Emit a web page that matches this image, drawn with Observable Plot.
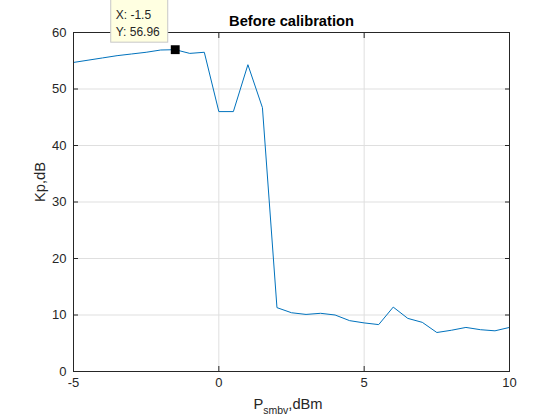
<!DOCTYPE html>
<html>
<head>
<meta charset="utf-8">
<script src="https://cdn.jsdelivr.net/npm/d3@7"></script>
<script src="https://cdn.jsdelivr.net/npm/@observablehq/plot@0.6"></script>
<style>
  html, body { margin: 0; padding: 0; background: #fff; }
  #chart { width: 560px; height: 420px; }
  svg text { font-family: "Liberation Sans", Arial, sans-serif; }
</style>
</head>
<body>
<div id="chart"></div>
<script>
const powerDbm = [-5, -4.5, -4, -3.5, -3, -2.5, -2, -1.5, -1, -0.5, 0, 0.5, 1, 1.5, 2, 2.5, 3, 3.5, 4, 4.5, 5, 5.5, 6, 6.5, 7, 7.5, 8, 8.5, 9, 9.5, 10];
const kpDb = [54.7, 55.1, 55.5, 55.9, 56.2, 56.5, 56.9, 56.96, 56.3, 56.5, 46.0, 46.0, 54.3, 46.7, 11.3, 10.4, 10.1, 10.3, 10.0, 9.0, 8.6, 8.3, 11.4, 9.4, 8.7, 6.9, 7.3, 7.8, 7.4, 7.2, 7.8];
const xTicks = [-5, 0, 5, 10];
const yTicks = [0, 10, 20, 30, 40, 50, 60];
const tipPoint = [{x: -1.5, y: 56.96}];
const titleText = "Before calibration";
const yLabel = "Kp,dB";

const data = powerDbm.map((x, i) => ({x, y: kpDb[i]}));
const ink = "#262626";
const gridColor = "#dfdfdf";
const fmt = d => String(d);

const plot = Plot.plot({
  width: 560,
  height: 420,
  marginLeft: 73,
  marginRight: 51,
  marginTop: 32,
  marginBottom: 49,
  style: {fontFamily: "'Liberation Sans', Arial, sans-serif", fontSize: "13px", color: ink, background: "#fff"},
  x: {domain: [-5, 10], ticks: xTicks},
  y: {domain: [0, 60], ticks: yTicks},
  marks: [
    Plot.gridX(xTicks, {stroke: gridColor, strokeOpacity: 1}),
    Plot.gridY(yTicks, {stroke: gridColor, strokeOpacity: 1}),
    Plot.line(data, {x: "x", y: "y", stroke: "#0072BD", strokeWidth: 1}),
    Plot.axisX(xTicks, {anchor: "bottom", tickSize: -5, tickPadding: 11, tickFormat: fmt, stroke: ink, fill: ink, label: null, fontSize: 13}),
    Plot.axisX(xTicks, {anchor: "top", tickSize: -5, tickFormat: () => "", stroke: ink, label: null}),
    Plot.axisY(yTicks, {anchor: "left", tickSize: -5, tickPadding: 12, tickFormat: fmt, stroke: ink, fill: ink, label: null, fontSize: 13}),
    Plot.axisY(yTicks, {anchor: "right", tickSize: -5, tickFormat: () => "", stroke: ink, label: null}),
    Plot.frame({stroke: ink, strokeWidth: 1}),
    Plot.dot(tipPoint, {x: "x", y: "y", symbol: "square", r: 5, fill: "black", stroke: "none"}),
    Plot.text([titleText], {frameAnchor: "top", text: d => d, dy: -7, lineAnchor: "bottom", fontWeight: "bold", fontSize: 14.7, fill: "black"}),
    Plot.text([yLabel], {frameAnchor: "left", text: d => d, dx: -33, rotate: -90, fontSize: 14.7, fill: ink})
  ]
});
document.getElementById("chart").appendChild(plot);

const svg = d3.select(plot);
const sx = plot.scale("x"), sy = plot.scale("y");

// x-axis label with subscript
const xl = svg.append("text")
  .attr("x", 288).attr("y", 409)
  .attr("text-anchor", "middle")
  .attr("fill", ink)
  .style("font-size", "14.7px");
xl.append("tspan").text("P");
xl.append("tspan").attr("dy", 5).style("font-size", "10.5px").text("smbv");
xl.append("tspan").attr("dy", -5).text(",dBm");

// data tip box anchored on the point
const p = tipPoint[0];
const px = sx.apply(p.x), py = sy.apply(p.y);
const g = svg.append("g");
const rect = g.append("rect")
  .attr("fill", "#ffffe1").attr("stroke", "#c8c8c8").attr("stroke-width", 1);
const t = g.append("text").attr("fill", "#262626").attr("text-anchor", "start").style("font-size", "12px");
t.append("tspan").attr("x", px - 59).attr("y", py - 30).text(`X: ${p.x}`);
t.append("tspan").attr("x", px - 59).attr("y", py - 13).text(`Y: ${p.y}`);
rect.attr("x", px - 64).attr("y", py - 50).attr("width", 57).attr("height", 43);
</script>
</body>
</html>
